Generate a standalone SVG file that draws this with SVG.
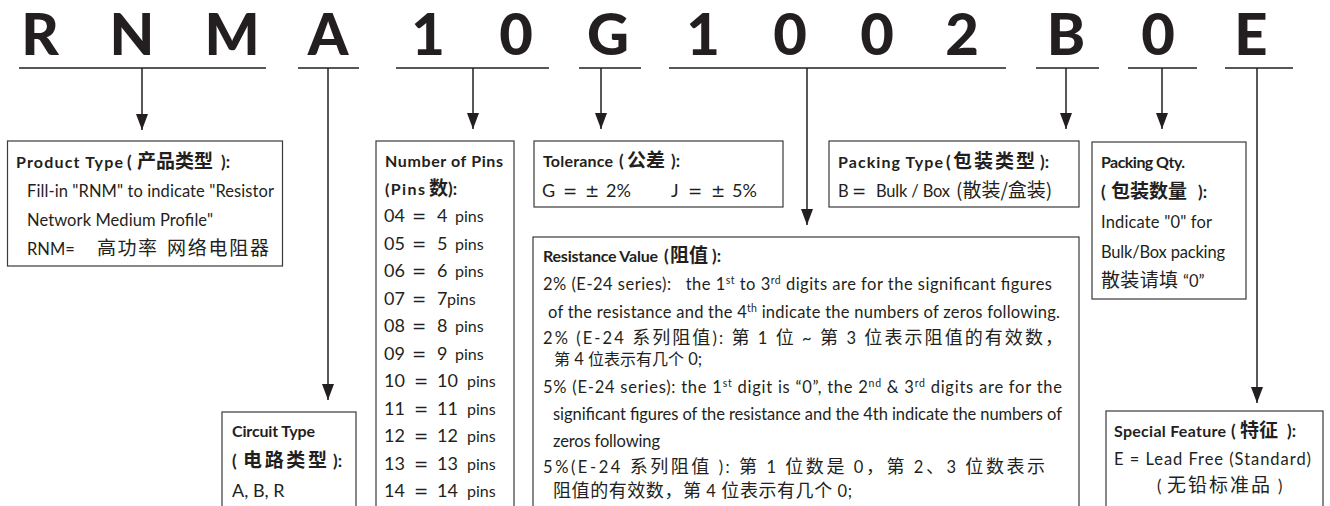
<svg xmlns="http://www.w3.org/2000/svg" width="1330" height="506" viewBox="0 0 1330 506">
<defs>
<marker id="arr" viewBox="0 0 16 12" refX="16" refY="6" markerWidth="16" markerHeight="12" markerUnits="userSpaceOnUse" orient="auto">
<path d="M0,0 L16,6 L0,12 z" fill="#231f20"/>
</marker>
</defs>
<style>
.code{font-family:"Lato","Noto Sans CJK SC",sans-serif;font-weight:900;font-size:58px;fill:#231f20;text-anchor:middle}
.ul{stroke:#231f20;stroke-width:1.5;fill:none}
.con{stroke:#231f20;stroke-width:1.5;fill:none;marker-end:url(#arr)}
.box{fill:#fff;stroke:#3a3a3a;stroke-width:1.2}
.h{font-family:"Lato","Noto Sans CJK SC",sans-serif;font-weight:700;font-size:17px;fill:#231f20}
.hl{font-family:"Lato",sans-serif;font-weight:700;font-size:16px;fill:#231f20}
.t{font-family:"Lato","Noto Sans CJK SC",sans-serif;font-weight:400;font-size:16.5px;fill:#231f20}
.n{font-family:"Lato","Noto Sans CJK SC",sans-serif;font-weight:400;font-size:18px;fill:#231f20}
.eq{font-family:"DejaVu Sans",sans-serif;font-weight:400;font-size:17px;fill:#231f20}
.p{font-size:16px}
.s{font-size:10.5px}
.c{font-family:"Noto Sans CJK SC",sans-serif;font-size:18px}
.c4{font-family:"Noto Sans CJK SC",sans-serif;font-size:16px}
.cb{font-family:"Noto Sans CJK SC",sans-serif;font-weight:700;font-size:19px;fill:#231f20}
.cr{font-family:"Noto Sans CJK SC",sans-serif;font-weight:400;font-size:19px;fill:#231f20}
</style>
<rect width="1330" height="506" fill="#fff"/>

<g id="code">
<text class="code" x="40" y="55">R</text>
<text class="code" x="132" y="55">N</text>
<text class="code" x="232" y="55">M</text>
<text class="code" x="328" y="55">A</text>
<text class="code" x="428" y="55">1</text>
<text class="code" x="516" y="55">0</text>
<text class="code" x="608" y="55">G</text>
<text class="code" x="703" y="55">1</text>
<text class="code" x="790" y="55">0</text>
<text class="code" x="877" y="55">0</text>
<text class="code" x="962" y="55">2</text>
<text class="code" x="1066" y="55">B</text>
<text class="code" x="1158" y="55">0</text>
<text class="code" x="1251" y="55">E</text>
<path class="ul" d="M19,68 H266 M298,68 H359 M396,68 H549 M579,68 H641 M669,68 H1006 M1036,68 H1099 M1128,68 H1197 M1225,68 H1293"/>
</g>

<g id="connectors">
<path class="con" d="M142,68 V130"/>
<path class="con" d="M328,68 V400"/>
<path class="con" d="M473,68 V129"/>
<path class="con" d="M601,68 V129"/>
<path class="con" d="M807,68 V225"/>
<path class="con" d="M1066,68 V129"/>
<path class="con" d="M1162,68 V129"/>
<path class="con" d="M1257,68 V403"/>
</g>

<g id="product-type">
<rect class="box" x="7.5" y="141" width="275" height="125"/>
<text class="hl" x="16" y="168" font-size="16.5" textLength="107">Product Type</text>
<text class="h" x="127" y="168">(</text>
<text class="cb" x="137" y="168" textLength="76">产品类型</text>
<text class="h" x="221" y="168">):</text>
<text class="t" x="27" y="197" textLength="247">Fill-in "RNM" to indicate "Resistor</text>
<text class="t" x="27" y="226" textLength="186">Network Medium Profile"</text>
<text class="t" x="27" y="255">RNM=</text>
<text class="cr" x="97" y="255" font-size="20" textLength="60">高功率</text>
<text class="cr" x="167" y="255" font-size="20" textLength="102">网络电阻器</text>
</g>

<g id="circuit-type">
<rect class="box" x="222" y="412" width="134" height="110"/>
<text class="hl" x="232" y="437" textLength="83">Circuit Type</text>
<text class="h" x="232" y="467">(</text>
<text class="cb" x="243" y="467" font-size="20" textLength="84">电路类型</text>
<text class="h" x="333" y="467">):</text>
<text class="n" x="232" y="497">A, B, R</text>
</g>

<g id="pins">
<rect class="box" x="376" y="141" width="138" height="380"/>
<text class="hl" x="385" y="167" textLength="118">Number of Pins</text>
<text class="hl" x="385" y="195" textLength="40">(Pins</text>
<text class="cb" x="429" y="195" font-size="18">数</text>
<text class="h" x="448" y="195">):</text>
<text class="n" y="222"><tspan x="384">04</tspan><tspan class="eq" x="412">=</tspan><tspan x="437">4</tspan><tspan class="p" x="455">pins</tspan></text>
<text class="n" y="249.5"><tspan x="384">05</tspan><tspan class="eq" x="412">=</tspan><tspan x="437">5</tspan><tspan class="p" x="455">pins</tspan></text>
<text class="n" y="277"><tspan x="384">06</tspan><tspan class="eq" x="412">=</tspan><tspan x="437">6</tspan><tspan class="p" x="455">pins</tspan></text>
<text class="n" y="304.5"><tspan x="384">07</tspan><tspan class="eq" x="412">=</tspan><tspan x="437">7</tspan><tspan class="p" x="447">pins</tspan></text>
<text class="n" y="332"><tspan x="384">08</tspan><tspan class="eq" x="412">=</tspan><tspan x="437">8</tspan><tspan class="p" x="455">pins</tspan></text>
<text class="n" y="359.5"><tspan x="384">09</tspan><tspan class="eq" x="412">=</tspan><tspan x="437">9</tspan><tspan class="p" x="455">pins</tspan></text>
<text class="n" y="387"><tspan x="384">10</tspan><tspan class="eq" x="414">=</tspan><tspan x="437">10</tspan><tspan class="p" x="467">pins</tspan></text>
<text class="n" y="414.5"><tspan x="384">11</tspan><tspan class="eq" x="414">=</tspan><tspan x="437">11</tspan><tspan class="p" x="467">pins</tspan></text>
<text class="n" y="442"><tspan x="384">12</tspan><tspan class="eq" x="414">=</tspan><tspan x="437">12</tspan><tspan class="p" x="467">pins</tspan></text>
<text class="n" y="469.5"><tspan x="384">13</tspan><tspan class="eq" x="414">=</tspan><tspan x="437">13</tspan><tspan class="p" x="467">pins</tspan></text>
<text class="n" y="497"><tspan x="384">14</tspan><tspan class="eq" x="414">=</tspan><tspan x="437">14</tspan><tspan class="p" x="467">pins</tspan></text>
</g>

<g id="tolerance">
<rect class="box" x="534" y="141" width="249" height="66"/>
<text class="hl" x="543" y="167" textLength="70">Tolerance</text>
<text class="h" x="619" y="167">(</text>
<text class="cb" x="627" y="167" font-size="20">公差</text>
<text class="h" x="671" y="167">):</text>
<text class="n" y="197"><tspan x="542">G</tspan><tspan class="eq" x="563">=</tspan><tspan class="eq" x="585">±</tspan><tspan x="606">2%</tspan><tspan x="671">J</tspan><tspan class="eq" x="688">=</tspan><tspan class="eq" x="711">±</tspan><tspan x="732">5%</tspan></text>
</g>

<g id="packing-type">
<rect class="box" x="829" y="141" width="250" height="66"/>
<text class="hl" x="838" y="168" textLength="105">Packing Type</text>
<text class="h" x="946" y="168">(</text>
<text class="cb" x="953" y="168" font-size="20" textLength="82">包装类型</text>
<text class="h" x="1040" y="168">):</text>
<text class="t" x="838" y="197">B</text>
<text class="eq" x="852" y="197">=</text>
<text class="t" x="876" y="197" textLength="74">Bulk / Box</text>
<text class="cr" x="956" y="197" font-size="21">(散装/盒装)</text>
</g>

<g id="packing-qty">
<rect class="box" x="1092" y="142" width="154" height="157"/>
<text class="hl" x="1101" y="168" textLength="84">Packing Qty.</text>
<text class="h" x="1101" y="198">(</text>
<text class="cb" x="1111" y="198" font-size="21">包装数量</text>
<text class="h" x="1198" y="198">):</text>
<text class="t" x="1101" y="228" textLength="111">Indicate "0" for</text>
<text class="t" x="1101" y="258" textLength="124">Bulk/Box packing</text>
<text class="cr" x="1101" y="287" textLength="77">散装请填</text>
<text class="t" x="1183" y="287">“0”</text>
</g>

<g id="resistance">
<rect class="box" x="533" y="237" width="546" height="290"/>
<text class="hl" x="543" y="262" font-size="15.5" textLength="115">Resistance Value</text>
<text class="h" x="664" y="262">(</text>
<text class="cb" x="670" y="262" font-size="20">阻值</text>
<text class="h" x="712" y="262">):</text>
<text class="t" x="543" y="290" textLength="509">2% (E-24 series):&#160;&#160; the 1<tspan class="s" dy="-6">st</tspan><tspan dy="6"> to 3</tspan><tspan class="s" dy="-6">rd</tspan><tspan dy="6"> digits are for the significant figures</tspan></text>
<text class="t" x="548" y="318" textLength="512">of the resistance and the 4<tspan class="s" dy="-6">th</tspan><tspan dy="6"> indicate the numbers of zeros following.</tspan></text>
<text class="t" x="543" y="344" textLength="520">2% (E-24 <tspan class="c">系列阻值</tspan>): <tspan class="c">第</tspan> 1 <tspan class="c">位</tspan> ~ <tspan class="c">第</tspan> 3 <tspan class="c">位表示阻值的有效数，</tspan></text>
<text class="t" x="554" y="365"><tspan class="c4">第</tspan> 4 <tspan class="c4">位表示有几个</tspan> 0;</text>
<text class="t" x="543" y="393" textLength="519">5% (E-24 series): the 1<tspan class="s" dy="-6">st</tspan><tspan dy="6"> digit is “0”, the 2</tspan><tspan class="s" dy="-6">nd</tspan><tspan dy="6"> &amp; 3</tspan><tspan class="s" dy="-6">rd</tspan><tspan dy="6"> digits are for the</tspan></text>
<text class="t" x="553" y="420" textLength="509">significant figures of the resistance and the 4th indicate the numbers of</text>
<text class="t" x="553" y="447" textLength="107">zeros following</text>
<text class="t" x="543" y="473" textLength="502">5%(E-24 <tspan class="c">系列阻值</tspan> ): <tspan class="c">第</tspan> 1 <tspan class="c">位数是</tspan> 0<tspan class="c">，第</tspan> 2<tspan class="c">、</tspan>3 <tspan class="c">位数表示</tspan></text>
<text class="t" x="553" y="497" textLength="299"><tspan class="c">阻值的有效数，第</tspan> 4 <tspan class="c">位表示有几个</tspan> 0;</text>
</g>

<g id="special-feature">
<rect class="box" x="1106" y="411" width="217" height="110"/>
<text class="hl" x="1114" y="437" textLength="112">Special Feature</text>
<text class="h" x="1231" y="437">(</text>
<text class="cb" x="1240" y="437" font-size="20">特征</text>
<text class="h" x="1287" y="437">):</text>
<text class="t" x="1114" y="465" textLength="197">E = Lead Free (Standard)</text>
<text class="t" x="1157" y="492">(</text>
<text class="cr" x="1167" y="492" font-size="20" textLength="103">无铅标准品</text>
<text class="t" x="1278" y="492">)</text>
</g>
</svg>
